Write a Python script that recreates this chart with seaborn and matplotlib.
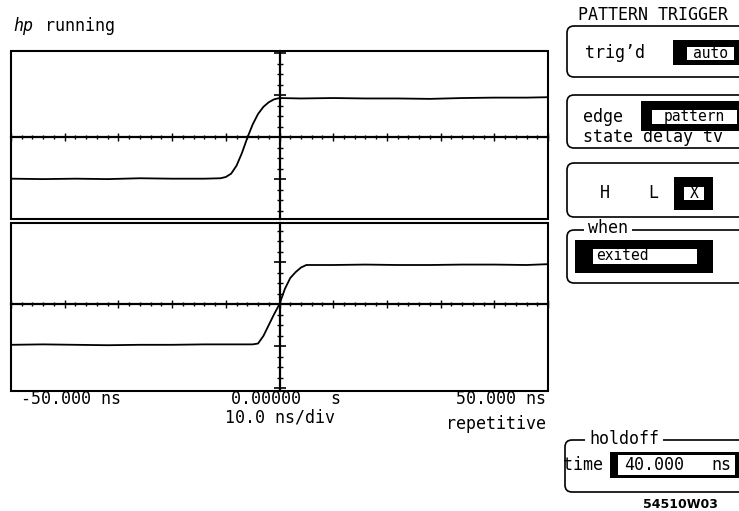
import matplotlib
matplotlib.use("Agg")
import matplotlib.pyplot as plt
import seaborn as sns
from matplotlib.patches import FancyBboxPatch, Rectangle
from matplotlib.ticker import MultipleLocator

# upper trace: time (ns) vs amplitude (divisions)
ch1_t = [-50, -44, -38, -32, -26, -20, -14, -11, -10, -9, -8, -7, -6, -5, -4,
         -3, -2, -1, 0, 4, 10, 16, 22, 28, 34, 40, 46, 50]
ch1_v = [-0.99, -1.0, -0.99, -1.0, -0.98, -0.99, -0.99, -0.98, -0.95, -0.87,
         -0.68, -0.38, -0.02, 0.3, 0.55, 0.72, 0.83, 0.9, 0.93, 0.92, 0.93,
         0.92, 0.92, 0.91, 0.93, 0.94, 0.94, 0.95]

# lower trace
ch2_t = [-50, -44, -38, -32, -26, -20, -14, -8, -5, -4, -3, -2, -1, 0, 1, 2,
         3, 4, 5, 10, 16, 22, 28, 34, 40, 46, 50]
ch2_v = [-0.97, -0.96, -0.97, -0.98, -0.97, -0.97, -0.96, -0.96, -0.96, -0.94,
         -0.76, -0.5, -0.24, 0.0, 0.36, 0.62, 0.76, 0.87, 0.93, 0.93, 0.94,
         0.93, 0.93, 0.94, 0.94, 0.93, 0.95]

time_labels = ["-50.000 ns", "0.00000   s", "50.000 ns"]

W, H = 739, 511
FS = 12
FS_FIELD = 10.5
sns.set_style("white")
plt.rcParams['font.family'] = ['DejaVu Sans Mono']

fig = plt.figure(figsize=(W / 100, H / 100), dpi=100)


def px_axes(left, top, right, bottom):
    return fig.add_axes([left / W, 1 - bottom / H, (right - left) / W, (bottom - top) / H])


panels = [(px_axes(11, 51, 548, 219), ch1_t, ch1_v, (-1.95, 2.05)),
          (px_axes(11, 223, 548, 391), ch2_t, ch2_v, (-2.07, 1.93))]

for ax, t, v, ylim in panels:
    sns.lineplot(x=t, y=v, ax=ax, color='black', lw=1.3, estimator=None)
    ax.set_xlim(-50, 50)
    ax.set_ylim(*ylim)
    for s in ['left', 'bottom']:
        ax.spines[s].set_position(('data', 0))
        ax.spines[s].set_linewidth(1.6)
        ax.spines[s].set_color('black')
    for s in ['top', 'right']:
        ax.spines[s].set_visible(False)
    ax.add_patch(Rectangle((0, 0), 1, 1, transform=ax.transAxes, fill=False,
                           lw=1.5, ec='black', clip_on=False))
    ax.xaxis.set_major_locator(MultipleLocator(10))
    ax.xaxis.set_minor_locator(MultipleLocator(2))
    ax.yaxis.set_major_locator(MultipleLocator(1))
    ax.yaxis.set_minor_locator(MultipleLocator(0.25))
    ax.tick_params(which='both', direction='inout', color='black',
                   labelbottom=False, labelleft=False, bottom=True, left=True)
    ax.tick_params(axis='x', which='major', length=6, width=1)
    ax.tick_params(axis='x', which='minor', length=3, width=1)
    ax.tick_params(axis='y', which='major', length=8, width=1.2)
    ax.tick_params(axis='y', which='minor', length=4, width=1)
    ax.set_xlabel('')
    ax.set_ylabel('')

# overlay in pixel coordinates for the text and the menu panel
ui = fig.add_axes([0, 0, 1, 1])
ui.set_xlim(0, W)
ui.set_ylim(H, 0)
ui.axis('off')


def txt(x, y, s, ha='left', **kw):
    ui.text(x, y, s, ha=ha, va='center', fontsize=kw.pop('fontsize', FS),
            color='black', zorder=5, **kw)


# left side texts
txt(13, 26, "hp", style='italic')
txt(45, 26, "running")
txt(21, 399, time_labels[0])
txt(231, 399, time_labels[1])
txt(546, 399, time_labels[2], ha='right')
txt(280, 417, "10.0 ns/div", ha='center')
txt(546, 424, "repetitive", ha='right')


# menu
def frame(top, bottom, left=567):
    ui.add_patch(FancyBboxPatch((left, top), 820 - left, bottom - top,
                                boxstyle="round,pad=0,rounding_size=7",
                                fill=False, lw=1.2, ec='black', zorder=1))


def gap(x0, x1, y):
    # break in a frame's top line where its caption sits
    ui.add_patch(Rectangle((x0, y - 4), x1 - x0, 8, color='white', lw=0, zorder=2))


def field(outer, inner):
    x0, y0, x1, y1 = outer
    ui.add_patch(Rectangle((x0, y0), x1 - x0, y1 - y0, color='black', lw=0, zorder=3))
    x0, y0, x1, y1 = inner
    ui.add_patch(Rectangle((x0, y0), x1 - x0, y1 - y0, color='white', lw=0, zorder=4))


txt(578, 15, "PATTERN TRIGGER")

frame(26, 77)
txt(585, 53, "trig\u2019d")
field((673, 40, 739, 65), (687, 47, 734, 60))
txt(710, 53, "auto", ha='center', fontsize=FS_FIELD)

frame(95, 148)
txt(583, 117, "edge")
field((641, 101, 739, 131), (652, 110, 737, 124))
txt(694, 117, "pattern", ha='center', fontsize=FS_FIELD)
txt(583, 137, "state delay tv")

frame(163, 217)
txt(605, 193, "H", ha='center')
txt(653, 193, "L", ha='center')
field((674, 177, 713, 210), (684, 187, 704, 200))
txt(694, 193, "X", ha='center', fontsize=FS_FIELD)

frame(230, 283)
gap(584, 632, 230)
txt(588, 228, "when")
field((575, 240, 713, 273), (593, 249, 697, 264))
txt(596, 256, "exited", fontsize=FS_FIELD)

frame(440, 492, left=565)
gap(585, 663, 440)
txt(589, 439, "holdoff")
txt(563, 465, "time")
field((610, 452, 739, 478), (618, 455, 735, 475))
txt(624, 465, "40.000")
txt(731, 465, "ns", ha='right')

txt(680, 504, "54510W03", ha='center', family='DejaVu Sans', weight='bold', fontsize=9)

fig.savefig("out.png", dpi=100)
